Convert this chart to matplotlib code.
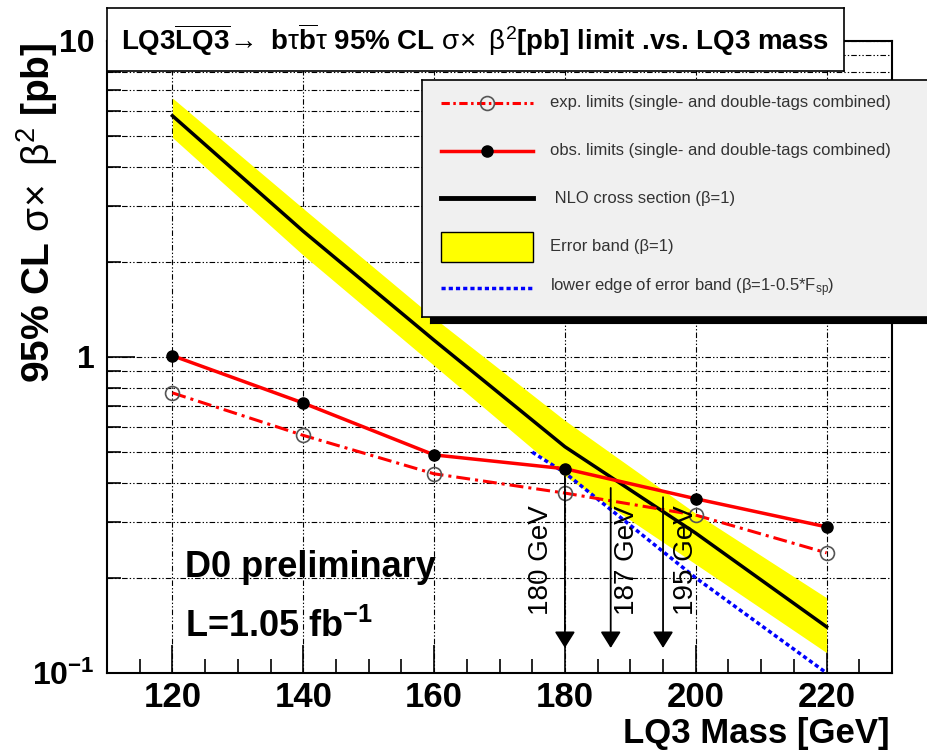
import numpy as np
import matplotlib
matplotlib.use("Agg")
import matplotlib.pyplot as plt
from matplotlib.ticker import LogLocator, NullFormatter, MultipleLocator
from matplotlib.patches import Rectangle

# data
mass = [120, 140, 160, 180, 200, 220]
obs_limit = [1.01, 0.715, 0.49, 0.443, 0.356, 0.29]
exp_limit = [0.77, 0.565, 0.427, 0.371, 0.316, 0.24]
nlo_xsec = [5.8, 2.5, 1.13, 0.52, 0.277, 0.14]
band_hi = [6.6, 2.95, 1.33, 0.63, 0.32, 0.173]
band_lo = [4.95, 2.1, 0.94, 0.42, 0.221, 0.116]
lower_mass = [175, 180, 200, 220]
lower_edge = [0.50, 0.43, 0.20, 0.10]
limit_mass = [180, 187, 195]
limit_top = [0.42, 0.385, 0.36]
limit_text_x = [176.4, 189.5, 198.5]

FONT = "Liberation Sans"
plt.rcParams["font.family"] = [FONT, "DejaVu Sans"]
plt.rcParams["font.weight"] = "bold"
plt.rcParams["mathtext.fontset"] = "custom"
plt.rcParams["mathtext.rm"] = FONT + ":weight=normal"
plt.rcParams["mathtext.bf"] = FONT + ":bold"
plt.rcParams["mathtext.it"] = FONT + ":bold"
plt.rcParams["mathtext.default"] = "bf"
plt.rcParams["lines.scale_dashes"] = False

W, H = 928, 755
fig = plt.figure(figsize=(W / 100, H / 100), dpi=100)
ax = fig.add_axes([107 / W, 82 / H, 785 / W, 632 / H])

ax.fill_between(mass, band_lo, band_hi, color="#ffff00", lw=0, zorder=2)
ax.plot(mass, nlo_xsec, color="black", lw=2.5, zorder=3)
ax.plot(lower_mass, lower_edge, color="#0000ff", lw=2.5, ls=(0, (3, 2.2)), zorder=3)
ax.plot(mass, exp_limit, color="#ff0000", lw=2.2, ls=(0, (10, 3.6, 2.2, 3.6)), zorder=4,
        marker="o", ms=10, mfc="none", mec="#555555", mew=1.2)
ax.plot(mass, obs_limit, color="#ff0000", lw=2.5, zorder=5,
        marker="o", ms=8, mfc="black", mec="black")

for m, top, tx in zip(limit_mass, limit_top, limit_text_x):
    ax.annotate("", xy=(m, 0.12), xytext=(m, top),
                arrowprops=dict(arrowstyle="-|>,head_length=0.4,head_width=0.25",
                                color="black", lw=1.3, shrinkA=0, shrinkB=0,
                                mutation_scale=25), zorder=6)
    ax.text(tx, 0.228, "%d GeV" % m, rotation=90, ha="center", va="center",
            fontsize=20, fontweight="normal", zorder=6)

ax.set_xlim(110, 230)
ax.set_ylim(0.1, 10)
ax.set_yscale("log")
ax.xaxis.set_major_locator(MultipleLocator(20))
ax.xaxis.set_minor_locator(MultipleLocator(5))
ax.set_yticks([0.1, 1, 10], labels=[r"$10^{-1}$", "1", "10"])
ax.yaxis.set_minor_locator(LogLocator(base=10, subs=np.arange(2, 10)))
ax.yaxis.set_minor_formatter(NullFormatter())

ax.tick_params(axis="x", which="major", direction="in", length=20, width=1.2,
               labelsize=25, pad=6)
ax.tick_params(axis="x", which="minor", direction="in", length=10, width=1.2)
ax.tick_params(axis="y", which="major", direction="in", length=20, width=1.2,
               labelsize=23, pad=9)
ax.tick_params(axis="y", which="minor", direction="in", length=10, width=1.2)

grid_ls = (0, (4, 1.5, 1, 1.5, 1, 1.5))
ax.grid(True, which="major", axis="x", color="black", lw=0.8, ls=grid_ls)
ax.grid(True, which="both", axis="y", color="black", lw=0.8, ls=grid_ls)
for s in ax.spines.values():
    s.set_linewidth(1.5)

# axis labels
fig.text(890 / W, 12 / H, "LQ3 Mass [GeV]", ha="right", va="baseline", fontsize=25)
fig.text(37 / W, 1 - 213 / H, r"95% CL $\mathrm{\sigma\!\times\ \beta}^{\mathrm{2}}$ [pb]",
         rotation=90, ha="center", va="center", fontsize=28)

fig.text(185 / W, 1 - 577 / H, "D0 preliminary", va="baseline", fontsize=26)
fig.text(185 / W, 1 - 637 / H, r"L=1.05 fb$^{-1}$", va="baseline", fontsize=26)

# title box
tax = fig.add_axes([107 / W, 1 - 71 / H, 737 / W, 63 / H])
tax.set_xticks([])
tax.set_yticks([])
tax.set_facecolor("white")
for s in tax.spines.values():
    s.set_linewidth(1.2)
tax.text(0.50, 0.5,
         r"LQ3$\overline{\mathbf{LQ3}}\!\mathrm{\rightarrow}$ b$\mathrm{\tau}\overline{\mathbf{b}}\mathrm{\tau}$"
         r" 95% CL $\mathrm{\sigma\!\times\ \beta}^{\mathrm{2}}$[pb] limit .vs. LQ3 mass",
         ha="center", va="center", fontsize=20, transform=tax.transAxes)

# legend with shadow
shadow = fig.add_axes([430 / W, (H - 323) / H, 520 / W, 237 / H])
shadow.set_facecolor("black")
shadow.set_xticks([])
shadow.set_yticks([])
lax = fig.add_axes([422 / W, (H - 317) / H, 520 / W, 237 / H])
lax.set_facecolor("#f0f0f0")
lax.set_xticks([])
lax.set_yticks([])
for s in lax.spines.values():
    s.set_linewidth(1.2)
lax.set_xlim(422, 942)
lax.set_ylim(317, 80)

rows = [103, 151, 198, 247, 288]
lx = [441, 533]
lax.plot(lx, [rows[0]] * 2, color="#ff0000", lw=2.2, ls=(0, (6, 2.5, 1.8, 2.5)))
lax.plot([487], [rows[0]], marker="o", ms=10, mfc="none", mec="#555555", mew=1.2)
lax.plot(lx, [rows[1]] * 2, color="#ff0000", lw=2.5)
lax.plot([487], [rows[1]], marker="o", ms=8, mfc="black", mec="black")
lax.plot(lx, [rows[2]] * 2, color="black", lw=3.5)
lax.add_patch(Rectangle((441, 232), 92, 30, facecolor="#ffff00", edgecolor="black", lw=1))
lax.plot(lx, [rows[4]] * 2, color="#0000ff", lw=2.5, ls=(0, (3, 2.2)))

labels = ["exp. limits (single- and double-tags combined)",
          "obs. limits (single- and double-tags combined)",
          " NLO cross section (\u03b2=1)",
          "Error band (\u03b2=1)",
          "lower edge of error band (\u03b2=1-0.5*F$_{\\mathrm{sp}}$)"]
for y, t in zip(rows, labels):
    lax.text(550, y, t, va="center", ha="left", fontsize=12, fontweight="normal",
             color="#333333")

fig.savefig("out.png", dpi=100)
